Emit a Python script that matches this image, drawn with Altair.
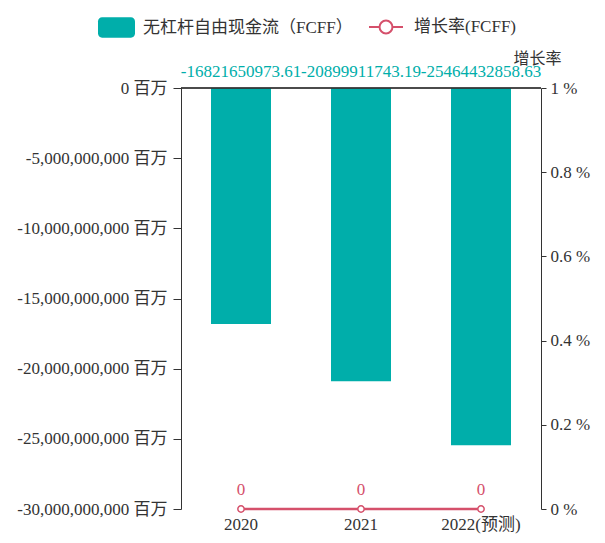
import altair as alt
import pandas as pd

years = ["2020", "2021", "2022(预测)"]
fcff = [-16821650973.61, -20899911743.19, -25464432858.63]
growth = [0, 0, 0]
left_ticks = [0, -5e9, -10e9, -15e9, -20e9, -25e9, -30e9]
right_ticks = [0, 0.2, 0.4, 0.6, 0.8, 1]

bar_name = "无杠杆自由现金流（FCFF）"
line_name = "增长率(FCFF)"

df = pd.DataFrame({"year": years, "fcff": fcff, "growth": growth})

FONT = "Liberation Serif, Noto Sans CJK SC"
TEAL = "#00AEAA"
RED = "#D5506B"
GRAY = "#333333"

rect_path = ("M-0.78,-0.55 L0.78,-0.55 A0.22,0.22 0 0 1 1,-0.33 L1,0.33 "
             "A0.22,0.22 0 0 1 0.78,0.55 L-0.78,0.55 A0.22,0.22 0 0 1 -1,0.33 "
             "L-1,-0.33 A0.22,0.22 0 0 1 -0.78,-0.55 Z")
line_path = ("M-1,0 L-0.38,0 M0.38,0 L1,0 M-0.38,0 A0.38,0.38 0 1 0 0.38,0 "
             "A0.38,0.38 0 1 0 -0.38,0 Z")

base = alt.Chart(df)

x_enc = alt.X("year:N", sort=years, title=None,
              scale=alt.Scale(paddingInner=0.5, paddingOuter=0.25),
              axis=alt.Axis(orient="bottom", domain=False, ticks=False, labelAngle=0,
                            labelFont=FONT, labelFontSize=17, labelColor=GRAY,
                            labelPadding=7))

left_axis = alt.Axis(orient="left", values=left_ticks, grid=False,
                     labelExpr="replace(format(datum.value, ','), '\u2212', '-') + ' 百万'",
                     labelFont=FONT, labelFontSize=17, labelColor=GRAY,
                     domainColor=GRAY, tickColor=GRAY, tickSize=8,
                     labelPadding=6)
left_scale = alt.Scale(domain=[-30e9, 0], nice=False)

bars = base.transform_calculate(series=f"'{bar_name}'").mark_bar(width=60).encode(
    x=x_enc,
    y=alt.Y("fcff:Q", title=None, scale=left_scale, axis=left_axis),
    color=alt.Color("series:N",
                    scale=alt.Scale(domain=[bar_name], range=[TEAL]),
                    legend=alt.Legend(orient="none", legendX=-83, legendY=-79,
                                      title=None, symbolType=rect_path,
                                      symbolSize=1369, symbolStrokeWidth=0,
                                      labelFont=FONT, labelFontSize=17,
                                      labelColor=GRAY, labelOffset=8,
                                      labelLimit=0)),
)

zero_rule = base.transform_calculate(zero="0").mark_rule(color=GRAY, strokeWidth=1.2).encode(
    y=alt.Y("zero:Q", title=None, scale=left_scale, axis=left_axis)
)

bar_text = base.transform_calculate(
    zero="0", lab="replace(format(datum.fcff, '.2f'), '\u2212', '-')"
).mark_text(font=FONT, fontSize=17, color=TEAL, dy=-16).encode(
    x=alt.X("year:N", sort=years),
    y=alt.Y("zero:Q", title=None, scale=left_scale, axis=left_axis),
    text="lab:N",
)

left_layer = alt.layer(bars, zero_rule, bar_text)

right_axis = alt.Axis(orient="right", values=right_ticks, grid=False,
                      labelExpr="datum.value + ' %'",
                      labelFont=FONT, labelFontSize=17, labelColor=GRAY,
                      domainColor=GRAY, tickColor=GRAY, tickSize=5,
                      labelPadding=4,
                      titleAngle=0, titleX=-4, titleY=-30,
                      titleAlign="center", titleBaseline="middle",
                      titleFont=FONT, titleFontSize=16,
                      titleFontWeight="normal", titleColor=GRAY)
right_scale = alt.Scale(domain=[0, 1], nice=False)

line = base.transform_calculate(s2=f"'{line_name}'").mark_line(strokeWidth=2.5).encode(
    x=alt.X("year:N", sort=years),
    y=alt.Y("growth:Q", title="增长率", scale=right_scale, axis=right_axis),
    stroke=alt.Stroke("s2:N",
                      scale=alt.Scale(domain=[line_name], range=[RED]),
                      legend=alt.Legend(orient="none", legendX=187, legendY=-79,
                                        title=None, symbolType=line_path,
                                        symbolSize=1156, symbolStrokeWidth=2,
                                        symbolFillColor="white",
                                        symbolStrokeColor=RED,
                                        labelFont=FONT, labelFontSize=17,
                                        labelColor=GRAY, labelOffset=10,
                                        labelLimit=0)),
)

pts = base.mark_point(filled=True, fill="white", stroke=RED, strokeWidth=1.5,
                      size=40, opacity=1).encode(
    x=alt.X("year:N", sort=years),
    y=alt.Y("growth:Q", title="增长率", scale=right_scale, axis=right_axis),
)

line_text = base.transform_calculate(lab="format(datum.growth, '')").mark_text(
    font=FONT, fontSize=17, color=RED, dy=-19
).encode(
    x=alt.X("year:N", sort=years),
    y=alt.Y("growth:Q", title="增长率", scale=right_scale, axis=right_axis),
    text="lab:N",
)

right_layer = alt.layer(line, pts, line_text)

chart = alt.layer(left_layer, right_layer).resolve_scale(
    y="independent", color="independent", stroke="independent"
).properties(
    width=360, height=421,
    padding={"left": 181, "top": 88, "right": 64, "bottom": 34},
    autosize=alt.AutoSizeParams(type="none"),
).configure_view(stroke=None)

chart.save("out.html", embed_options={"renderer": "svg", "actions": False})
